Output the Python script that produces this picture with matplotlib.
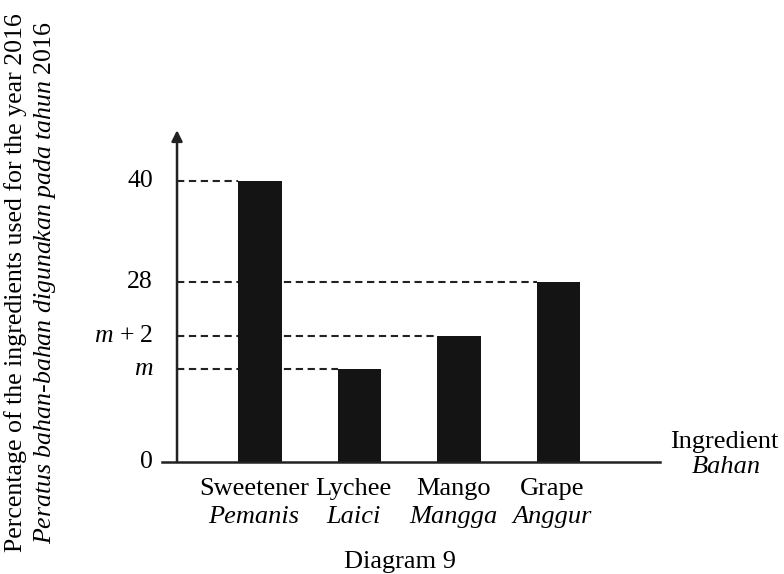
import matplotlib.pyplot as plt

# diagram data (heights as drawn on the schematic axis)
ingredients = ['Sweetener', 'Lychee', 'Mango', 'Grape']
ingredients_ms = ['Pemanis', 'Laici', 'Mangga', 'Anggur']
heights = [40, 13.2, 17.9, 25.6]
tick_pos = [0, 13.2, 17.9, 25.6, 40]
tick_labels = ['0', '$m$', '$m$ + 2', '28', '40']
# which bar each dashed guide runs to
guide_bar = [None, 1, 2, 3, 0]

plt.rcParams['font.family'] = ['Liberation Serif', 'DejaVu Serif']
plt.rcParams['mathtext.fontset'] = 'custom'
plt.rcParams['mathtext.it'] = 'Liberation Serif:italic'
plt.rcParams['mathtext.rm'] = 'Liberation Serif'

fs = 19
fig = plt.figure(figsize=(7.84, 5.74), dpi=100)
ax = fig.add_axes([162/784, 112/574, 498/784, 329/574])

x = list(range(len(ingredients)))
w = 0.44
ax.bar(x, heights, width=w, color='#141414', zorder=3)

x0 = -0.834
ax.set_xlim(-0.985, 4.02)
ax.set_ylim(0, 46.8)

# axes drawn by hand
ax.plot([-0.985, 4.02], [0, 0], color='#222222', lw=1.8, clip_on=False, zorder=4)
ax.annotate('', xy=(x0, 47.2), xytext=(x0, 0),
            arrowprops=dict(arrowstyle='-|>', color='#222222', lw=1.8,
                            mutation_scale=16, shrinkA=0, shrinkB=0),
            annotation_clip=False)

for pos, lab, b in zip(tick_pos, tick_labels, guide_bar):
    ax.text(-1.075, pos, lab, ha='right', va='center', fontsize=18.5, clip_on=False)
    if b is not None:
        ax.plot([x0, b - w / 2], [pos, pos], color='#222222', lw=1.5,
                ls=(0, (3.5, 2.2)), zorder=2)

for i in x:
    ax.text(i - 0.06, -2.3, ingredients[i], ha='center', va='top', fontsize=fs)
    ax.text(i - 0.06, -6.3, ingredients_ms[i], ha='center', va='top', fontsize=fs,
            style='italic')

ax.text(4.12, 2.8, 'Ingredient', ha='left', va='center', fontsize=fs)
ax.text(4.69, -0.7, 'Bahan', ha='center', va='center', fontsize=fs, style='italic')

ax.axis('off')

fig.text(16/784, 0.507, 'Percentage of the ingredients used for the year 2016',
         rotation=90, ha='center', va='center', fontsize=18.6)
fig.text(45/784, 0.507, '$\\it{Peratus\\ bahan}$-$\\it{bahan\\ digunakan\\ pada\\ tahun}$ 2016',
         rotation=90, ha='center', va='center', fontsize=18.6)
fig.text(400/784, 1/574, 'Diagram 9', ha='center', va='bottom', fontsize=fs)

fig.savefig('out.png', dpi=100)
